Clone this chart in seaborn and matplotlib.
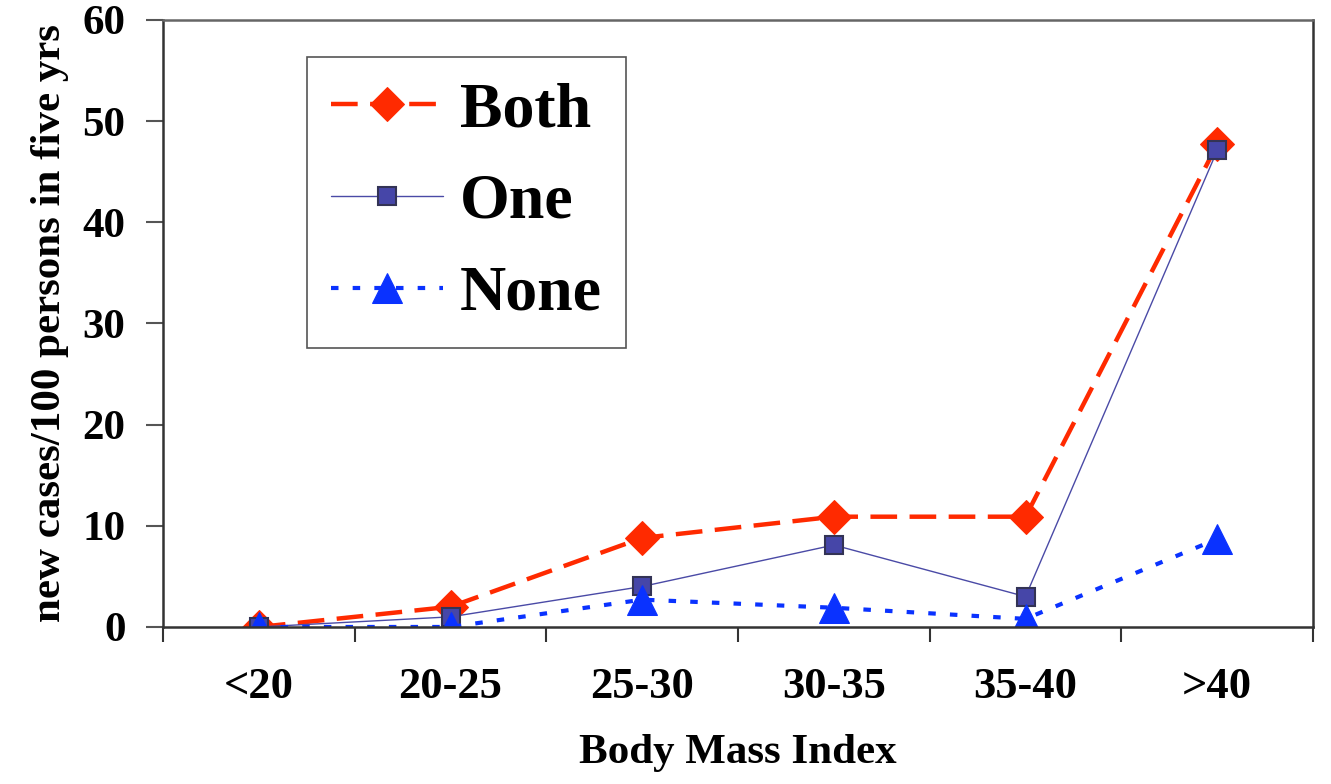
import pandas as pd
import matplotlib
matplotlib.use('Agg')
import matplotlib.pyplot as plt
import seaborn as sns
from matplotlib.ticker import FixedLocator, MultipleLocator

# DADOS
categorias = ['<20', '20-25', '25-30', '30-35', '35-40', '>40']
both = [0, 2, 8.8, 10.9, 10.9, 47.7]
one = [0, 1, 4, 8.1, 3, 47.1]
none = [0, 0, 2.7, 1.9, 0.8, 8.7]

df = pd.DataFrame({'bmi': categorias, 'Both': both, 'One': one, 'None': none})

sns.set_theme(style='white')
plt.rcParams['font.family'] = ['Liberation Serif', 'DejaVu Serif']
plt.rcParams['font.weight'] = 'bold'
plt.rcParams['text.color'] = 'black'
plt.rcParams['axes.labelcolor'] = 'black'

fig = plt.figure(figsize=(13.31, 7.84), dpi=100)
ax = fig.add_axes([0.1225, 0.2003, 0.864, 0.7742])

# BOTH - VERMELHO TRACEJADO COM LOSANGO
sns.lineplot(data=df, x='bmi', y='Both', ax=ax, color='#FF2A00', linewidth=3.2,
             marker='D', markersize=17, markeredgecolor='#FF2A00',
             label='Both', sort=False)
ax.lines[-1].set_dashes((6, 2.8))

# ONE - LINHA FINA COM QUADRADO
sns.lineplot(data=df, x='bmi', y='One', ax=ax, color='#4A4AA6', linewidth=1,
             marker='s', markersize=12.5, markerfacecolor='#4646A8',
             markeredgecolor='#333355', markeredgewidth=1.5, label='One', sort=False)

# NONE - AZUL PONTILHADO COM TRIANGULO
sns.lineplot(data=df, x='bmi', y='None', ax=ax, color='#0A32FF', linewidth=3,
             marker='^', markersize=22, markeredgecolor='#0A32FF',
             label='None', sort=False)
ax.lines[-1].set_dashes((1.8, 3.4))

ax.set_xlim(-0.5, 5.5)
ax.set_ylim(0, 60)
ax.yaxis.set_major_locator(MultipleLocator(10))

ax.set_xticks(range(len(categorias)))
ax.set_xticklabels(categorias)
ax.xaxis.set_minor_locator(FixedLocator([i - 0.5 for i in range(len(categorias) + 1)]))
ax.tick_params(axis='x', which='major', length=0, pad=29, labelsize=32, labelcolor='black')
ax.tick_params(axis='x', which='minor', length=11, width=1.5, color='#333333', direction='out', bottom=True)
ax.tick_params(axis='y', which='major', length=12, width=1.5, color='#555555', direction='out',
               left=True, labelsize=31, pad=15, labelcolor='black')
for lbl in ax.get_xticklabels() + ax.get_yticklabels():
    lbl.set_fontweight('bold')

for lado, spine in ax.spines.items():
    spine.set_visible(True)
    spine.set_color('#333333')
    spine.set_linewidth(1.8)
ax.spines['top'].set_color('#666666')

ax.set_xlabel('Body Mass Index', fontsize=31, fontweight='bold', labelpad=19)
ax.set_ylabel('new cases/100 persons in five yrs', fontsize=31, fontweight='bold', labelpad=10)

leg = ax.legend(loc='upper left', bbox_to_anchor=(0.125, 0.939), fontsize=46,
                handlelength=1.75, labelspacing=0.52, borderpad=0.38, handletextpad=0.27,
                fancybox=False, framealpha=1, edgecolor='#555555', borderaxespad=0)
leg.get_frame().set_linewidth(1.2)
for t in leg.get_texts():
    t.set_fontweight('bold')
    t.set_color('black')

plt.savefig('out.png', dpi=100)
